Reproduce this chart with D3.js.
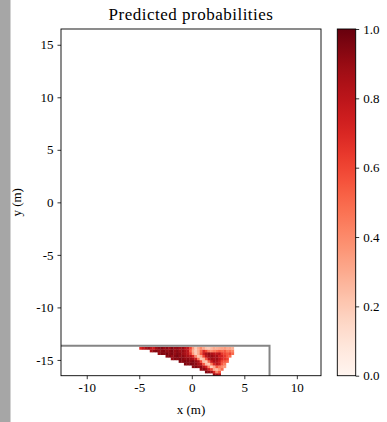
<!DOCTYPE html>
<html>
<head>
<meta charset="utf-8">
<script src="https://cdn.jsdelivr.net/npm/d3@7"></script>
<style>
  html, body { margin: 0; padding: 0; background: #fff; }
  svg { display: block; }
  svg text { font-family: "Liberation Serif", "DejaVu Serif", serif !important; fill: #000; }
</style>
</head>
<body>
<svg id="chart" width="387" height="422"></svg>
<script>
// Axis extents (metres) and ticks
const xDomain = [-12.45, 12.3];
const yDomain = [-16.5, 16.5];
const xTicks = [-10, -5, 0, 5, 10];
const yTicks = [-15, -10, -5, 0, 5, 10, 15];
const cbTicks = [0.0, 0.2, 0.4, 0.6, 0.8, 1.0];

// Boundary drawn in grey: corner at (boxRight, boxTop), running off the left and bottom
const boxRight = 7.4;
const boxTop = -13.65;

// Probability grid: 0.25 m cells, first column at x = -5.25, first row at y = -16.5
const gridX0 = -5.25;
const gridY0 = -16.5;
const cellSize = 0.25;
// Each row (bottom to top): index of its first column and the probabilities that follow
const rowStart = [29, 26, 24, 21, 18, 16, 13, 11, 8, 5, 1];
const row0  = [0.9, 0.85, 0.8];
const row1  = [0.95, 0.92, 0.88, 0.7, 0.4, 0.55];
const row2  = [0.9, 0.93, 0.88, 0.72, 0.6, 0.3, 0.25, 0.35, 0.5];
const row3  = [0.92, 0.95, 0.9, 0.93, 0.82, 0.72, 0.4, 0.18, 0.3, 0.55, 0.45, 0.4, 0.35];
const row4  = [0.95, 0.93, 0.96, 0.94, 0.92, 0.85, 0.8, 0.55, 0.25, 0.2, 0.45, 0.7, 0.8, 0.75, 0.55, 0.45];
const row5  = [0.95, 0.93, 0.96, 0.94, 0.92, 0.95, 0.9, 0.85, 0.6, 0.25, 0.2, 0.5, 0.75, 0.85, 0.82, 0.75, 0.6, 0.55, 0.5];
const row6  = [0.9, 0.94, 0.92, 0.95, 0.93, 0.9, 0.92, 0.88, 0.85, 0.75, 0.45, 0.2, 0.25, 0.55, 0.8, 0.88, 0.85, 0.88, 0.8, 0.7, 0.65, 0.6];
const row7  = [0.92, 0.95, 0.9, 0.93, 0.96, 0.9, 0.92, 0.88, 0.85, 0.82, 0.7, 0.4, 0.22, 0.3, 0.6, 0.8, 0.88, 0.9, 0.85, 0.86, 0.75, 0.72, 0.65, 0.55, 0.5];
const row8  = [0.9, 0.95, 0.93, 0.97, 0.92, 0.95, 0.9, 0.94, 0.92, 0.88, 0.85, 0.8, 0.65, 0.35, 0.2, 0.3, 0.55, 0.75, 0.85, 0.9, 0.85, 0.8, 0.78, 0.82, 0.65, 0.6, 0.55, 0.6, 0.5];
const row9  = [0.85, 0.92, 0.95, 0.9, 0.93, 0.95, 0.9, 0.92, 0.95, 0.9, 0.93, 0.88, 0.9, 0.85, 0.8, 0.55, 0.3, 0.2, 0.3, 0.5, 0.7, 0.6, 0.45, 0.4, 0.45, 0.5, 0.55, 0.5, 0.55, 0.45, 0.48, 0.42];
const row10 = [0.7, 0.78, 0.85, 0.9, 0.8, 0.75, 0.88, 0.92, 0.95, 0.9, 0.93, 0.88, 0.95, 0.9, 0.92, 0.87, 0.9, 0.82, 0.78, 0.6, 0.35, 0.2, 0.3, 0.4, 0.3, 0.22, 0.2, 0.25, 0.3, 0.28, 0.3, 0.32, 0.35, 0.3, 0.32, 0.28];
const rowValues = [row0, row1, row2, row3, row4, row5, row6, row7, row8, row9, row10];

// Layout
const svg = d3.select("#chart");
const plot = { left: 61, right: 321, top: 29, bottom: 375.7 };
const cbar = { left: 337.3, right: 355.7 };
const serif = '"Liberation Serif", "DejaVu Serif", serif';

const x = d3.scaleLinear().domain(xDomain).range([plot.left, plot.right]);
const y = d3.scaleLinear().domain(yDomain).range([plot.bottom, plot.top]);
const color = d3.scaleSequential(d3.interpolateReds).domain([0, 1]);

// Grey strip on the left edge of the page
svg.append("rect")
  .attr("x", 0).attr("y", 0).attr("width", 10.5).attr("height", 422)
  .attr("fill", "#a6a6a6");

svg.append("defs").append("clipPath").attr("id", "plotClip")
  .append("rect")
  .attr("x", plot.left).attr("y", plot.top)
  .attr("width", plot.right - plot.left).attr("height", plot.bottom - plot.top);

const inner = svg.append("g").attr("clip-path", "url(#plotClip)");

// Heat-map cells
const cells = [];
rowValues.forEach((vals, r) => {
  vals.forEach((v, i) => {
    const c = rowStart[r] + i;
    cells.push({
      x0: gridX0 + c * cellSize,
      y0: gridY0 + r * cellSize,
      v: v
    });
  });
});

inner.append("g").selectAll("rect")
  .data(cells)
  .join("rect")
  .attr("x", d => x(d.x0))
  .attr("y", d => y(d.y0 + cellSize))
  .attr("width", d => x(d.x0 + cellSize) - x(d.x0) + 0.3)
  .attr("height", d => y(d.y0) - y(d.y0 + cellSize) + 0.3)
  .attr("fill", d => color(d.v));

// Grey boundary
inner.append("path")
  .attr("d", d3.line()([
    [x(xDomain[0]) - 5, y(boxTop)],
    [x(boxRight), y(boxTop)],
    [x(boxRight), y(yDomain[0]) + 5]
  ]))
  .attr("fill", "none")
  .attr("stroke", "#858585")
  .attr("stroke-width", 2);

// Axes
const xAxis = d3.axisBottom(x).tickValues(xTicks).tickSize(3.5).tickPadding(4)
  .tickFormat(d => String(d));
const yAxis = d3.axisLeft(y).tickValues(yTicks).tickSize(3.5).tickPadding(4)
  .tickFormat(d => String(d));

function styleAxis(g) {
  g.attr("font-family", null).attr("font-size", null);
  g.select(".domain").remove();
  g.selectAll(".tick line").attr("stroke", "#000").attr("stroke-width", 0.8);
  g.selectAll(".tick text")
    .style("font-family", serif)
    .style("font-size", "13px")
    .attr("fill", "#000");
}

svg.append("g").attr("transform", `translate(0,${plot.bottom})`).call(xAxis).call(styleAxis);
svg.append("g").attr("transform", `translate(${plot.left},0)`).call(yAxis).call(styleAxis);

// Frame
svg.append("rect")
  .attr("x", plot.left).attr("y", plot.top)
  .attr("width", plot.right - plot.left).attr("height", plot.bottom - plot.top)
  .attr("fill", "none").attr("stroke", "#000").attr("stroke-width", 0.9);

// Title and axis labels
svg.append("text")
  .attr("x", (plot.left + plot.right) / 2).attr("y", 20)
  .attr("text-anchor", "middle").style("font-size", "17px")
  .style("letter-spacing", "0.5px")
  .text("Predicted probabilities");

svg.append("text")
  .attr("x", (plot.left + plot.right) / 2).attr("y", 414)
  .attr("text-anchor", "middle").style("font-size", "13px")
  .text("x (m)");

svg.append("text")
  .attr("transform", `translate(21,${(plot.top + plot.bottom) / 2}) rotate(-90)`)
  .attr("text-anchor", "middle").style("font-size", "13px")
  .text("y (m)");

// Colour bar
const cb = d3.scaleLinear().domain([0, 1]).range([plot.bottom, plot.top]);
const grad = svg.select("defs").append("linearGradient")
  .attr("id", "cbGrad").attr("x1", 0).attr("y1", 1).attr("x2", 0).attr("y2", 0);
grad.selectAll("stop")
  .data(d3.range(0, 1.0001, 0.02))
  .join("stop")
  .attr("offset", d => d)
  .attr("stop-color", d => color(d));

svg.append("rect")
  .attr("x", cbar.left).attr("y", plot.top)
  .attr("width", cbar.right - cbar.left).attr("height", plot.bottom - plot.top)
  .attr("fill", "url(#cbGrad)")
  .attr("stroke", "#000").attr("stroke-width", 0.9);

const cbAxis = d3.axisRight(cb).tickValues(cbTicks).tickSize(3.5).tickPadding(4)
  .tickFormat(d3.format(".1f"));
svg.append("g").attr("transform", `translate(${cbar.right},0)`).call(cbAxis).call(styleAxis);
</script>
</body>
</html>
